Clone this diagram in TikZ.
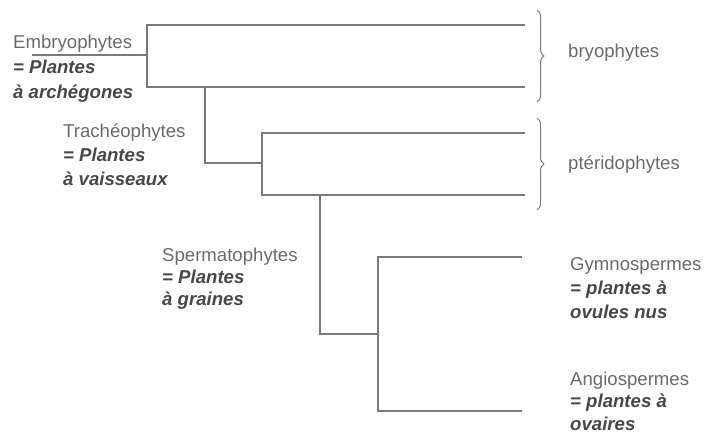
\documentclass[tikz,border=0pt]{standalone}
\usepackage{fontspec}
\setmainfont{Liberation Sans}
\usetikzlibrary{decorations.pathreplacing}
\definecolor{linegray}{HTML}{7A7A7A}
\definecolor{txtgray}{HTML}{6A6A6A}
\definecolor{boldgray}{HTML}{474747}
\tikzset{
  tree/.style={draw=linegray, line width=1.3pt},
  lbl/.style={anchor=base west, inner sep=0pt, align=left, text=txtgray,
    font=\fontsize{18.6}{#1}\selectfont},
  lbl/.default=23.5,
  brc/.style={draw=linegray, line width=1pt, decorate,
    decoration={brace, amplitude=7pt, aspect=0.5}},
}
\newcommand{\bi}[1]{\textcolor{boldgray}{\bfseries\itshape #1}}
\begin{document}
\begin{tikzpicture}[x=1pt,y=-1pt]
\useasboundingbox (0,0) rectangle (706,440);
% tree coordinates
\coordinate (root) at (32,55);
\coordinate (j1) at (147,55);
\coordinate (j1t) at (147,25);
\coordinate (j1b) at (147,87);
\coordinate (bry1) at (525,25);
\coordinate (bry2) at (525,87);
\coordinate (k1) at (205,87);
\coordinate (k1b) at (205,163);
\coordinate (j2) at (262,163);
\coordinate (j2t) at (262,133);
\coordinate (j2b) at (262,195);
\coordinate (pt1) at (525,133);
\coordinate (pt2) at (525,195);
\coordinate (k2) at (320,195);
\coordinate (k2b) at (320,334);
\coordinate (j3) at (378,334);
\coordinate (j3t) at (378,257);
\coordinate (j3b) at (378,411);
\coordinate (gym) at (522,257);
\coordinate (ang) at (522,411);
% tree lines
\draw[tree] (root) -- (j1);
\draw[tree] (bry1) -- (j1t) -- (j1b) -- (bry2);
\draw[tree] (k1) -- (k1b) -- (j2);
\draw[tree] (pt1) -- (j2t) -- (j2b) -- (pt2);
\draw[tree] (k2) -- (k2b) -- (j3);
\draw[tree] (gym) -- (j3t) -- (j3b) -- (ang);
% braces
\coordinate (b1t) at (537,10);
\coordinate (b1b) at (537,102);
\coordinate (b2t) at (537,118);
\coordinate (b2b) at (537,210);
\draw[brc] (b1t) -- (b1b);
\draw[brc] (b2t) -- (b2b);
% labels (anchored at the baseline of their last line)
\node[lbl=25] (emb) at (13,98) {Embryophytes\\\bi{= Plantes}\\\bi{à archégones}};
\node[lbl=24] (tra) at (63,185) {Trachéophytes\\\bi{= Plantes}\\\bi{à vaisseaux}};
\node[lbl=22] (spe) at (162,305) {Spermatophytes\\\bi{= Plantes}\\\bi{à graines}};
\node[lbl=24] (gy) at (570,318) {Gymnospermes\\\bi{= plantes à}\\\bi{ovules nus}};
\node[lbl=22.5] (an) at (570,430) {Angiospermes\\\bi{= plantes à}\\\bi{ovaires}};
\node[lbl] (bryo) at (568,57) {bryophytes};
\node[lbl] (pter) at (568,169) {ptéridophytes};
\end{tikzpicture}
\end{document}
